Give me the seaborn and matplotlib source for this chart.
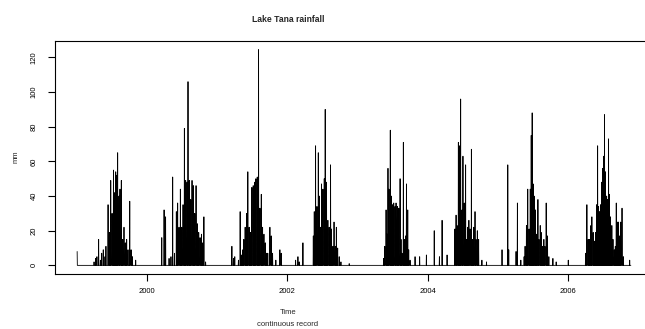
import numpy as np
import pandas as pd
import matplotlib
matplotlib.use("Agg")
import matplotlib.pyplot as plt
import seaborn as sns

sns.set_theme(style="white")
plt.rcParams['font.family'] = ['Liberation Sans', 'DejaVu Sans']

# Daily rainfall at Lake Tana (mm); only rain days are listed, all other days are dry.
days_1999 = [1, 89, 97, 104, 113, 122, 129, 137, 146, 151, 162, 169, 176, 183, 190, 197,
             202, 207, 212, 219, 224, 231, 238, 245, 252, 259, 266, 275, 282, 289, 306]
mm_1999 = [8, 2, 4, 5, 15, 3, 7, 9, 5, 11, 35, 19, 49, 30, 55, 42,
           54, 52, 65, 40, 44, 49, 15, 22, 13, 15, 9, 37, 9, 5, 3]

days_2000 = [77, 89, 97, 115, 125, 134, 143, 153, 160, 167, 174, 181, 188, 195, 202,
             209, 214, 221, 228, 235, 242, 249, 256, 263, 270, 277, 284, 291, 297, 306]
mm_2000 = [16, 32, 28, 4, 5, 51, 7, 31, 36, 22, 44, 22, 35, 79, 49,
           48, 106, 49, 38, 49, 46, 30, 46, 24, 19, 16, 18, 13, 28, 2]

days_2001 = [77, 85, 92, 111, 120, 127, 134, 139, 146, 153, 160, 167, 174, 181, 188, 195,
             202, 209, 216, 223, 230, 237, 244, 251, 258, 264, 275, 282, 289, 306, 327, 334]
mm_2001 = [11, 4, 5, 3, 31, 6, 9, 15, 22, 30, 54, 22, 19, 45, 46, 48,
           50, 51, 124.5, 33, 41, 22, 18, 13, 7, 7, 22, 17, 7, 3, 9, 7]

days_2002 = [44, 56, 63, 82, 136, 141, 148, 155, 162, 167, 174, 179, 186, 193, 198,
             205, 212, 219, 226, 231, 238, 244, 251, 256, 263, 271, 280, 323]
mm_2002 = [3, 5, 2, 13, 17, 31, 69, 34, 65, 40, 22, 47, 44, 50, 90,
           48, 26, 22, 58, 21, 11, 25, 11, 22, 10, 5, 2, 1]

days_2003 = [137, 143, 150, 155, 160, 165, 172, 177, 184, 190, 197, 202, 209, 216, 223,
             228, 233, 240, 245, 251, 256, 263, 268, 275, 301, 325, 360]
mm_2003 = [4, 11, 32, 18, 56, 44, 78, 40, 35, 36, 34, 36, 34, 33, 50,
           15, 7, 71, 15, 17, 47, 32, 9, 3, 5, 5, 6]

days_2004 = [36, 63, 77, 103, 144, 150, 155, 162, 167, 174, 181, 186, 193, 200, 205,
             210, 217, 223, 230, 235, 242, 249, 254, 261, 268, 285, 309]
mm_2004 = [20, 5, 26, 6, 21, 29, 23, 71, 69, 96, 32, 63, 36, 58, 15,
           22, 26, 21, 67, 15, 22, 31, 15, 20, 15, 3, 2]

days_2005 = [24, 54, 59, 97, 104, 122, 139, 144, 151, 158, 165, 171, 176, 181, 186,
             191, 198, 204, 211, 216, 223, 228, 235, 242, 247, 254, 261, 268, 289, 306]
mm_2005 = [9, 58, 9, 8, 36, 3, 5, 11, 23, 44, 21, 44, 75, 88, 47,
           40, 32, 18, 38, 15, 23, 19, 11, 15, 11, 36, 17, 5, 4, 2]

days_2006 = [4, 94, 101, 108, 115, 122, 127, 134, 139, 146, 151, 157, 162, 167, 172, 177,
             183, 188, 193, 198, 204, 209, 214, 219, 224, 231, 237, 244, 249, 254, 261,
             266, 271, 277, 284, 291, 324]
mm_2006 = [3, 7, 35, 15, 15, 23, 28, 19, 14, 19, 35, 69, 34, 31, 35, 48,
           56, 63, 87, 54, 40, 38, 73, 41, 28, 23, 15, 9, 11, 36, 25,
           25, 17, 25, 33, 5, 3]

record_start = "1999-01-01"
record_end = "2006-11-26"

records = [
    (1999, days_1999, mm_1999), (2000, days_2000, mm_2000),
    (2001, days_2001, mm_2001), (2002, days_2002, mm_2002),
    (2003, days_2003, mm_2003), (2004, days_2004, mm_2004),
    (2005, days_2005, mm_2005), (2006, days_2006, mm_2006),
]

dates = pd.date_range(record_start, record_end, freq="D")
rain = pd.Series(0.0, index=dates)
for yr, days, mm in records:
    idx = pd.Timestamp(f"{yr}-01-01") + pd.to_timedelta(np.array(days) - 1, unit="D")
    rain.loc[idx] = np.array(mm, dtype=float)

ylen = np.where(dates.is_leap_year, 366.0, 365.0)
df = pd.DataFrame({"time": dates.year + (dates.dayofyear - 1) / ylen,
                   "mm": rain.values})

W, H = 645, 329
fig = plt.figure(figsize=(W / 100, H / 100), dpi=100)
ax = fig.add_axes([55 / W, 1 - 274 / H, (653 - 55) / W, (274 - 41) / H])

sns.lineplot(data=df, x="time", y="mm", color="black", linewidth=0.6,
             estimator=None, sort=False, ax=ax)

# R-style 4% axis padding
t0, t1 = df["time"].min(), df["time"].max()
pad_t = 0.04 * (t1 - t0)
ax.set_xlim(t0 - pad_t, t1 + pad_t)
ymax = df["mm"].max()
ax.set_ylim(-0.04 * ymax, ymax * 1.04)

ax.set_xticks([2000, 2002, 2004, 2006])
ax.set_xticklabels(["2000", "2002", "2004", "2006"])
ax.set_yticks([0, 20, 40, 60, 80, 100, 120])
ax.set_xlabel("")
ax.set_ylabel("")
for s in ax.spines.values():
    s.set_color("black")
    s.set_linewidth(0.8)
    s.set_visible(True)
ax.tick_params(axis="both", direction="out", length=5, width=0.8, colors="black",
               labelsize=5.5, bottom=True, left=True)
ax.tick_params(axis="x", pad=5)
ax.tick_params(axis="y", pad=10)
for lbl in ax.get_yticklabels():
    lbl.set_rotation(90)
    lbl.set_va("center")
    lbl.set_ha("center")

cx = 288 / W
fig.text(cx, 1 - 19 / H, "Lake Tana rainfall", ha="center", va="center",
         fontsize=6.2, fontweight="bold")
fig.text(cx, 1 - 313 / H, "Time", ha="center", va="center", fontsize=5.5)
fig.text(cx, 1 - 324 / H, "continuous record", ha="center", va="center", fontsize=5.5)
fig.text(16 / W, 1 - 157 / H, "mm", ha="center", va="center", rotation=90, fontsize=5.5)

fig.savefig("out.png", dpi=100)
